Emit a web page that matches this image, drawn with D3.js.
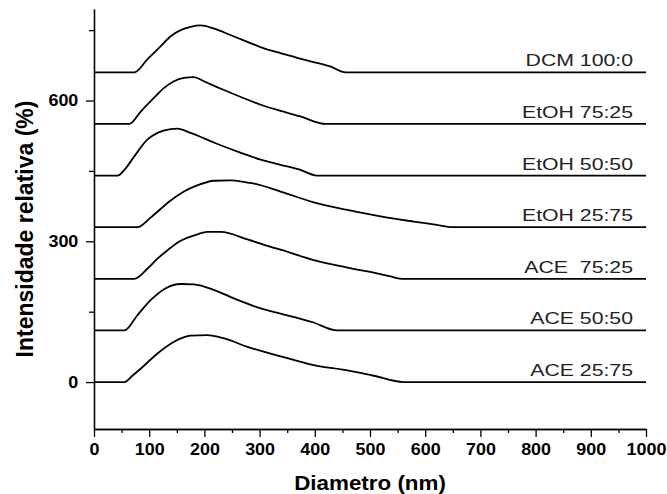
<!DOCTYPE html>
<html lang="pt">
  <head>
    <meta charset="UTF-8" />
    <title>Intensidade relativa x Diametro</title>
    <script src="https://d3js.org/d3.v7.min.js"></script>
    <style>
      body {
        margin: 0;
        background: #fff;
        font-family: Arial, "Liberation Sans", sans-serif;
      }
      svg {
        display: block;
      }
    </style>
  </head>
  <body>
    <svg id="chart" width="667" height="494"></svg>

    <script>
      // series labels and their vertical offsets (each curve is shifted by 110)
      const seriesNames = [
        "ACE 25:75",
        "ACE 50:50",
        "ACE  75:25",
        "EtOH 25:75",
        "EtOH 50:50",
        "EtOH 75:25",
        "DCM 100:0",
      ];
      const offsets = [0, 110, 220, 330, 440, 550, 660];

      // [diameter (nm), relative intensity (%)]
      const ace2575 = [[0, 0], [55, 0], [70, 14], [85, 29], [115, 61], [145, 86], [175, 99], [205, 100], [236, 93], [278, 75], [338, 55], [398, 36], [459, 25], [505, 14], [561, 0], [1000, 0]];
      const ace5050 = [[0, 0], [55, 0], [79, 33], [103, 65], [127, 88], [157, 99], [181, 98], [218, 86], [260, 65], [302, 47], [338, 36], [395, 18], [441, 0], [1000, 0]];
      const ace7525 = [[0, 0], [73, 0], [97, 22], [115, 43], [127, 55], [157, 81], [188, 95], [205, 100], [230, 100], [278, 84], [320, 68], [338, 62], [398, 40], [459, 24], [519, 10], [537, 5], [561, 0], [1000, 0]];
      const etoh2575 = [[0, 0], [79, 0], [103, 21], [139, 57], [163, 76], [187, 89], [217, 99], [248, 100], [278, 95], [290, 93], [338, 76], [398, 53], [459, 37], [519, 23], [579, 12], [621, 5], [649, 0], [1000, 0]];
      const etoh5050 = [[0, 0], [43, 0], [55, 12], [73, 41], [97, 77], [115, 91], [139, 99], [151, 100], [175, 91], [218, 70], [265, 49], [302, 34], [338, 23], [374, 12], [404, 0], [1000, 0]];
      const etoh7525 = [[0, 0], [64, 0], [85, 27], [109, 56], [127, 77], [145, 91], [163, 98], [181, 100], [199, 91], [230, 75], [265, 58], [302, 41], [338, 28], [374, 16], [420, 0], [1000, 0]];
      const dcm1000 = [[0, 0], [73, 0], [97, 28], [121, 56], [139, 77], [157, 90], [175, 97], [193, 100], [218, 93], [248, 79], [278, 65], [308, 51], [338, 41], [368, 31], [398, 22], [429, 12], [456, 0], [1000, 0]];

      const curves = [ace2575, ace5050, ace7525, etoh2575, etoh5050, etoh7525, dcm1000];

      const xTicks = d3.range(0, 1001, 100);
      const xMinor = d3.range(50, 1000, 100);
      const yTicks = [0, 300, 600];
      const yMinor = [150, 450, 750];

      const svg = d3.select("#chart");
      const font = 'Arial, "Liberation Sans", sans-serif';

      const x = d3.scaleLinear().domain([0, 1000]).range([94, 646]);
      const y = d3.scaleLinear().domain([-100, 795]).range([429, 9]);

      // curves
      const line = d3
        .line()
        .x((d) => x(d[0]))
        .y((d) => d[1])
        .curve(d3.curveMonotoneX);

      curves.forEach((pts, i) => {
        svg
          .append("path")
          .attr("d", line(pts.map((p) => [p[0], y(p[1] + offsets[i])])))
          .attr("fill", "none")
          .attr("stroke", "#000")
          .attr("stroke-width", 1.8)
          .attr("stroke-linejoin", "round");

        svg
          .append("text")
          .attr("transform", `translate(633, ${y(offsets[i]) - 6}) scale(1.25,1)`)
          .attr("text-anchor", "end")
          .style("white-space", "pre")
          .attr("font-family", font)
          .attr("font-size", 17)
          .attr("fill", "#222")
          .text(seriesNames[i]);
      });

      // axes
      function styleAxis(g) {
        g.attr("font-family", font).attr("font-size", 16).attr("font-weight", "bold");
        g.selectAll("path, line").attr("stroke", "#000").attr("stroke-width", 1.3);
        g.selectAll("text").attr("fill", "#000").attr("transform", "scale(1.12,1)");
      }

      svg
        .append("g")
        .attr("transform", "translate(0,429)")
        .call(
          d3.axisBottom(x).tickValues(xTicks).tickFormat(d3.format("d"))
            .tickSize(8).tickSizeOuter(0).tickPadding(7)
        )
        .call(styleAxis);
      svg
        .append("g")
        .attr("transform", "translate(0,429)")
        .call(d3.axisBottom(x).tickValues(xMinor).tickSize(4).tickSizeOuter(0).tickFormat(""))
        .call(styleAxis);

      svg
        .append("g")
        .attr("transform", "translate(94,0)")
        .call(
          d3.axisLeft(y).tickValues(yTicks).tickFormat(d3.format("d"))
            .tickSize(8).tickSizeOuter(0).tickPadding(6)
        )
        .call(styleAxis);
      svg
        .append("g")
        .attr("transform", "translate(94,0)")
        .call(d3.axisLeft(y).tickValues(yMinor).tickSize(5).tickSizeOuter(0).tickFormat(""))
        .call(styleAxis);

      // axis titles
      svg
        .append("text")
        .attr("transform", "translate(370,490) scale(1.12,1)")
        .attr("text-anchor", "middle")
        .attr("font-family", font)
        .attr("font-size", 20)
        .attr("font-weight", "bold")
        .text("Diametro (nm)");

      svg
        .append("text")
        .attr("transform", "translate(33,229) rotate(-90)")
        .attr("text-anchor", "middle")
        .attr("font-family", font)
        .attr("font-size", 23)
        .attr("font-weight", "bold")
        .text("Intensidade relativa (%)");
    </script>
  </body>
</html>
